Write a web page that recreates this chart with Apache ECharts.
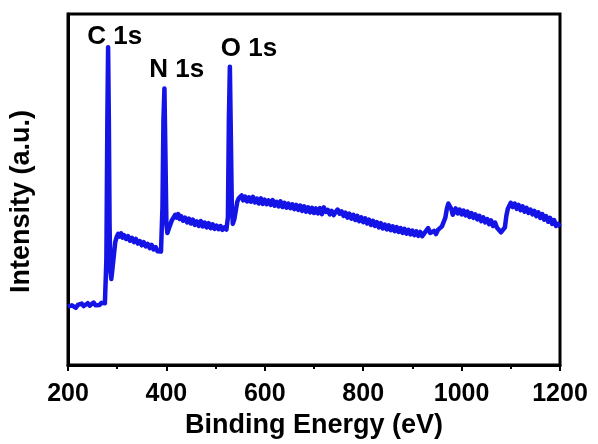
<!DOCTYPE html>
<html>
<head>
<meta charset="utf-8">
<script src="https://cdn.jsdelivr.net/npm/echarts@6/dist/echarts.min.js"></script>
<style>
  html, body { margin: 0; padding: 0; background: #fff; }
  #chart { width: 598px; height: 444px; }
</style>
</head>
<body>
<div id="chart"></div>
<script>
// XPS survey spectrum: binding energy (eV) and intensity (arbitrary units)
var bindingEnergy = [
  200, 204, 208, 212, 216, 220, 224, 228, 232, 236, 240, 244, 248, 252, 256, 260, 264, 268, 272, 275,
  278, 280, 281.5, 283, 284.5, 286, 288, 290, 293, 296, 299,
  302, 305, 308, 311, 314, 318, 322, 326, 330, 334, 338, 342, 346, 350, 354, 358, 362, 366, 370, 374, 378, 382, 386, 389,
  392, 394, 396, 398, 400,
  402, 405, 408, 411, 414, 418, 421, 424, 427, 430, 434, 438, 442, 446, 450, 454, 458, 462, 466, 470,
  474, 478, 482, 486, 490, 494, 498, 502, 506, 510, 514, 518, 522,
  525, 527, 529, 531, 533, 535, 538, 541, 544, 547,
  550, 553, 556, 560, 564, 568, 572, 576, 580, 584,
  588, 592, 596, 600, 604, 608, 612, 616, 620, 624,
  628, 632, 636, 640, 644, 648, 652, 656, 660, 664,
  668, 672, 676, 680, 684, 688, 692, 696, 700, 704,
  708, 712, 716, 720, 724, 728, 732, 736, 740, 744,
  748, 752, 756, 760, 764, 768, 772, 776, 780, 784,
  788, 792, 796, 800, 804, 808, 812, 816, 820, 824,
  828, 832, 836, 840, 844, 848, 852, 856, 860, 864,
  868, 872, 876, 880, 884, 888, 892, 896, 900, 904,
  908, 912, 916, 920, 924, 928, 932, 936, 940, 944,
  948, 952, 956, 960, 964,
  967, 970, 973, 976, 979, 982,
  985, 988, 992, 996, 1000, 1004, 1008, 1012, 1016, 1020,
  1024, 1028, 1032, 1036, 1040, 1044, 1048, 1052, 1056, 1060,
  1064, 1068, 1072, 1076, 1080, 1084, 1088,
  1091, 1094, 1097,
  1100, 1104, 1108, 1112, 1116, 1120, 1124, 1128, 1132, 1136,
  1140, 1144, 1148, 1152, 1156, 1160, 1164, 1168, 1172, 1176,
  1180, 1184, 1188, 1192, 1196, 1200
];
var intensity = [
  16.6, 16.2, 17.0, 16.7, 16.3, 17.1, 16.9, 17.5, 16.8, 17.2, 17.6, 16.9, 17.4, 17.8, 17.0, 17.5, 17.1, 17.7, 17.2, 17.6,
  30, 70, 90.5, 70, 40, 27, 24.5, 27, 31, 35, 36.5,
  37.4, 36.6, 37.5, 36.3, 37.0, 35.9, 36.7, 35.4, 36.2, 35.0, 35.9, 34.6, 35.3, 34.1, 35.0, 33.8, 34.5, 33.3, 34.2, 32.9, 33.6, 32.4, 32.9, 32.3,
  45, 70, 78.8, 60, 40,
  37.6, 38.9, 39.4, 41.2, 41.0, 42.8, 42.0, 43.0, 41.6, 42.4, 41.1, 42.0, 40.6, 41.7, 40.3, 41.4, 39.9, 40.9, 39.6, 41.0,
  39.5, 40.6, 39.2, 40.4, 39.0, 40.1, 38.8, 39.7, 38.7, 39.6, 38.5, 39.2, 38.6,
  42, 70, 85, 65, 45, 40.2, 41.5, 44, 46.5, 47.5,
  47.0, 48.3, 46.9, 48.0, 46.6, 47.8, 46.5, 47.9, 46.3, 47.4,
  46.0, 47.5, 45.9, 47.1, 45.8, 46.9, 45.6, 47.0, 45.4, 46.5,
  45.2, 46.6, 45.0, 46.2, 44.8, 46.0, 44.7, 45.8, 44.4, 45.6,
  44.2, 45.4, 43.9, 45.2, 43.7, 44.9, 43.5, 44.8, 43.3, 44.6,
  43.2, 44.7, 43.0, 44.9, 43.6, 44.2, 42.9, 43.9, 42.7, 43.6,
  44.3, 43.1, 43.8, 42.5, 43.4, 42.0, 43.1, 41.7, 42.8, 41.3,
  42.5, 41.0, 42.1, 40.7, 41.8, 40.3, 41.4, 39.9, 41.1, 39.6,
  40.7, 39.2, 40.4, 38.9, 40.0, 38.6, 39.8, 38.4, 39.5, 38.1,
  39.3, 37.9, 39.0, 37.6, 38.8, 37.4, 38.5, 37.2, 38.3, 37.0,
  38.1, 36.8, 37.9, 36.7, 37.5, 37.2, 39.0, 37.6, 37.1, 38.2,
  37.3, 38.5, 38.0, 39.5, 39.0,
  42, 44.5, 46.0, 46.3, 44.5, 42.8,
  43.2, 44.6, 43.2, 44.3, 42.9, 44.0, 42.6, 43.7, 42.2, 43.3,
  41.9, 42.9, 41.5, 42.5, 41.0, 42.1, 40.6, 41.6, 40.1, 41.2,
  39.6, 40.6, 39.1, 39.6, 37.8, 38.3, 39.2,
  42.5, 44.5, 45.0,
  46.2, 45.0, 46.0, 44.5, 45.6, 44.1, 45.2, 43.7, 44.8, 43.3,
  44.3, 42.9, 43.9, 42.4, 43.5, 41.9, 43.0, 41.4, 42.4, 40.8,
  41.9, 40.2, 41.3, 39.6, 40.2, 39.4
];

// Peak annotations and where their text sits (eV, intensity)
var peakNames = ['C 1s', 'N 1s', 'O 1s'];
var peakLabelEnergy = [295, 421, 568];
var peakLabelIntensity = [93.4, 84.0, 90.0];

var spectrum = bindingEnergy.map(function (e, i) { return [e, intensity[i]]; });
var peakMarks = peakNames.map(function (name, i) {
  return { coord: [peakLabelEnergy[i], peakLabelIntensity[i]], value: name };
});

var FONT = '"Liberation Sans", Arial, sans-serif';
var chart = echarts.init(document.getElementById('chart'), null, { renderer: 'canvas' });

chart.setOption({
  backgroundColor: '#ffffff',
  animation: false,
  grid: {
    left: 68, right: 38, top: 14, bottom: 71,
    show: true,
    borderColor: '#000',
    borderWidth: 3,
    backgroundColor: 'transparent'
  },
  xAxis: {
    type: 'value',
    min: 200,
    max: 1200,
    interval: 200,
    name: 'Binding Energy (eV)',
    nameLocation: 'middle',
    nameGap: 47,
    nameTextStyle: { color: '#000', fontFamily: FONT, fontWeight: 'bold', fontSize: 27 },
    axisLine: { show: true, lineStyle: { color: '#000', width: 3 } },
    axisTick: { show: true, inside: false, length: 6, lineStyle: { color: '#000', width: 2 } },
    minorTick: { show: true, splitNumber: 2, length: 4, lineStyle: { color: '#000', width: 2 } },
    splitLine: { show: false },
    axisLabel: {
      color: '#000', fontFamily: FONT, fontWeight: 'bold', fontSize: 25, margin: 17,
      formatter: function (v) { return String(v); }
    }
  },
  yAxis: {
    type: 'value',
    min: 0,
    max: 100,
    name: 'Intensity (a.u.)',
    nameLocation: 'middle',
    nameRotate: 90,
    nameGap: 33,
    nameTextStyle: {
      color: '#000', fontFamily: FONT, fontWeight: 'bold', fontSize: 27,
      padding: [0, 24, 0, 0]
    },
    axisLine: { show: true, lineStyle: { color: '#000', width: 3 } },
    axisTick: { show: false },
    axisLabel: { show: false },
    splitLine: { show: false }
  },
  series: [{
    type: 'line',
    data: spectrum,
    showSymbol: false,
    smooth: false,
    lineStyle: { color: '#1414e6', width: 4.5, join: 'round' },
    markPoint: {
      symbol: 'circle',
      symbolSize: 0,
      silent: true,
      label: {
        show: true,
        position: 'inside',
        formatter: function (p) { return p.value; },
        color: '#000',
        fontFamily: FONT,
        fontWeight: 'bold',
        fontSize: 26
      },
      data: peakMarks
    }
  }]
});
</script>
</body>
</html>
